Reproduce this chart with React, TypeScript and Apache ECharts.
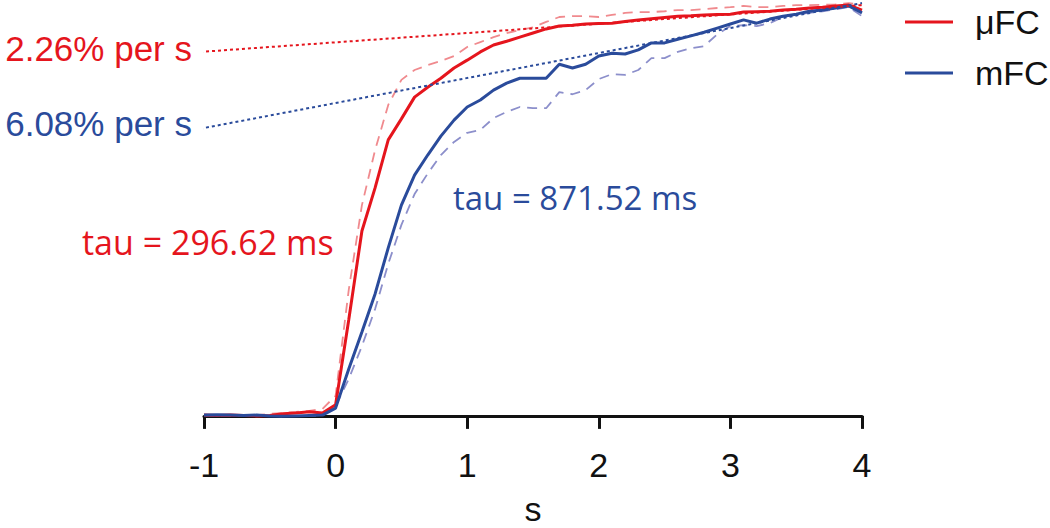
import React, { useEffect, useRef } from "react";
import * as echarts from "echarts";

const timeS = [
  -1.0, -0.9, -0.8, -0.7, -0.6, -0.5, -0.4, -0.3, -0.2, -0.1,
  0.0, 0.1, 0.2, 0.3, 0.4, 0.5, 0.6, 0.7, 0.8, 0.9,
  1.0, 1.1, 1.2, 1.3, 1.4, 1.5, 1.6, 1.7, 1.8, 1.9,
  2.0, 2.1, 2.2, 2.3, 2.4, 2.5, 2.6, 2.7, 2.8, 2.9,
  3.0, 3.1, 3.2, 3.3, 3.4, 3.5, 3.6, 3.7, 3.8, 3.9, 4.0,
];

const muFC = [
  0.2, 0.1, 0.2, 0.1, 0, 0.1, 0.5, 0.7, 1.0, 0.7,
  2.7, 23.4, 45.0, 55.5, 67.2, 72.3, 77.6, 80.0, 82.2, 84.7,
  86.6, 88.6, 90.3, 91.2, 92.2, 93.2, 94.2, 94.9, 95.1, 95.4,
  95.5, 95.6, 96.0, 96.4, 96.7, 97.0, 97.3, 97.4, 97.6, 97.7,
  97.8, 98.3, 98.4, 98.5, 98.8, 99.0, 99.3, 99.5, 99.8, 100.0, 98.8,
];

const muFCUpper = [
  0.2, 0, 0.2, 0, 0.2, 0.5, 0.7, 1.0, 1.2, 1.7,
  4.9, 30.7, 51.3, 64.7, 75.7, 81.8, 84.2, 85.4, 86.4, 87.6,
  89.8, 91.0, 92.2, 93.2, 93.9, 94.6, 95.9, 97.1, 97.3, 97.3,
  97.1, 97.6, 98.1, 98.3, 98.3, 98.5, 98.8, 98.8, 99.0, 99.3,
  99.5, 99.8, 99.5, 99.5, 99.8, 100.0, 100.0, 100.1, 100.2, 100.5, 100.0,
];

const mFC = [
  0.2, 0.3, 0.2, 0.1, 0.2, 0, -0.1, 0, 0.1, 0.2,
  1.9, 11.4, 20.4, 29.7, 40.9, 51.3, 58.6, 63.5, 68.1, 72.0,
  75.2, 76.9, 79.3, 81.0, 82.2, 82.2, 82.2, 85.6, 84.7, 85.6,
  87.6, 88.3, 88.1, 89.1, 90.8, 90.8, 91.7, 92.5, 93.4, 94.4,
  95.4, 96.4, 95.6, 96.6, 97.3, 97.8, 98.5, 98.8, 99.3, 99.8, 98.1,
];

const mFCLower = [
  0.1, 0.2, 0.1, 0, 0.1, 0, -0.1, 0, 0, 0.1,
  2.4, 9.0, 17.0, 26.0, 37.0, 46.5, 54.0, 59.0, 63.5, 66.7,
  68.9, 69.6, 72.5, 74.0, 75.2, 74.9, 74.9, 78.8, 78.3, 79.3,
  82.0, 83.2, 83.0, 84.2, 87.1, 87.1, 88.6, 89.5, 90.0, 92.9,
  94.9, 95.1, 94.9, 95.6, 97.1, 97.8, 98.1, 98.5, 99.0, 99.5, 97.3,
];

// linear fits (start/end points of the dotted lines)
const fitX = [-1.03, 4.0];
const muFCFit = [88.6, 100.0];
const mFCFit = [69.9, 100.5];

const xTicks = [-1, 0, 1, 2, 3, 4];

const RED = "#E5151D";
const RED_LIGHT = "#F08A8E";
const BLUE = "#2A4B9B";
const BLUE_LIGHT = "#8C8FCB";

const pairs = (xs: number[], ys: number[]) => xs.map((x, i) => [x, ys[i]]);

export default function App() {
  const ref = useRef<HTMLDivElement>(null);
  useEffect(() => {
    if (!ref.current) return;
    const chart = echarts.init(ref.current, undefined, { renderer: "svg" });
    const arial = "Liberation Sans, Arial, sans-serif";
    const humanist = "Open Sans, Noto Sans, sans-serif";
    chart.setOption({
      animation: false,
      backgroundColor: "#ffffff",
      grid: {
        left: 204,
        right: 188,
        top: 1,
        bottom: 108,
        containLabel: false,
        outerBoundsMode: "none",
      },
      xAxis: {
        type: "value",
        min: -1,
        max: 4,
        interval: 1,
        name: "s",
        nameLocation: "middle",
        nameGap: 72,
        nameTextStyle: { fontSize: 34, fontFamily: arial, color: "#111" },
        axisLine: { show: true, lineStyle: { color: "#111", width: 3 } },
        axisTick: { show: true, length: 13, lineStyle: { color: "#111", width: 3 } },
        axisLabel: {
          fontSize: 34,
          fontFamily: arial,
          color: "#111",
          margin: 28,
          formatter: (v: number) => (xTicks.includes(v) ? String(v) : ""),
        },
        splitLine: { show: false },
      },
      yAxis: {
        type: "value",
        min: -1,
        max: 101,
        show: false,
        splitLine: { show: false },
      },
      legend: {
        data: ["μFC", "mFC"],
        orient: "vertical",
        left: 900,
        top: 0,
        icon: "rect",
        itemWidth: 48,
        itemHeight: 3,
        itemGap: 17,
        textStyle: {
          fontSize: 34,
          fontFamily: arial,
          color: "#111",
          padding: [0, 0, 0, 17],
        },
      },
      series: [
        {
          name: "μFC upper",
          type: "line",
          data: pairs(timeS, muFCUpper),
          symbol: "none",
          lineStyle: { color: RED_LIGHT, width: 1.8, type: [10, 7] },
          z: 1,
        },
        {
          name: "mFC lower",
          type: "line",
          data: pairs(timeS, mFCLower),
          symbol: "none",
          lineStyle: { color: BLUE_LIGHT, width: 1.8, type: [10, 7] },
          z: 1,
        },
        {
          name: "μFC",
          type: "line",
          data: pairs(timeS, muFC),
          symbol: "none",
          itemStyle: { color: RED },
          lineStyle: { color: RED, width: 3 },
          z: 2,
        },
        {
          name: "mFC",
          type: "line",
          data: pairs(timeS, mFC),
          symbol: "none",
          itemStyle: { color: BLUE },
          lineStyle: { color: BLUE, width: 3 },
          z: 2,
        },
        {
          name: "μFC fit",
          type: "line",
          data: pairs(fitX, muFCFit),
          symbol: "none",
          clip: false,
          lineStyle: { color: RED, width: 2, type: [3, 3] },
          z: 3,
        },
        {
          name: "mFC fit",
          type: "line",
          data: pairs(fitX, mFCFit),
          symbol: "none",
          clip: false,
          lineStyle: { color: BLUE, width: 2, type: [3, 3] },
          z: 3,
        },
      ],
      graphic: [
        {
          type: "text",
          x: 192,
          y: 48,
          style: {
            text: "2.26% per s",
            fill: RED,
            fontSize: 35,
            fontFamily: arial,
            align: "right",
            verticalAlign: "middle",
          },
        },
        {
          type: "text",
          x: 192,
          y: 123,
          style: {
            text: "6.08% per s",
            fill: BLUE,
            fontSize: 35,
            fontFamily: arial,
            align: "right",
            verticalAlign: "middle",
          },
        },
        {
          type: "text",
          x: 82,
          y: 242,
          style: {
            text: "tau = 296.62 ms",
            fill: RED,
            fontSize: 34,
            fontFamily: humanist,
            align: "left",
            verticalAlign: "middle",
          },
        },
        {
          type: "text",
          x: 453,
          y: 197,
          style: {
            text: "tau = 871.52 ms",
            fill: BLUE,
            fontSize: 33,
            fontFamily: humanist,
            align: "left",
            verticalAlign: "middle",
          },
        },
      ],
    });
    return () => chart.dispose();
  }, []);
  return (
    <div
      ref={ref}
      style={{ position: "fixed", left: 0, top: 0, width: 1050, height: 528 }}
    />
  );
}
